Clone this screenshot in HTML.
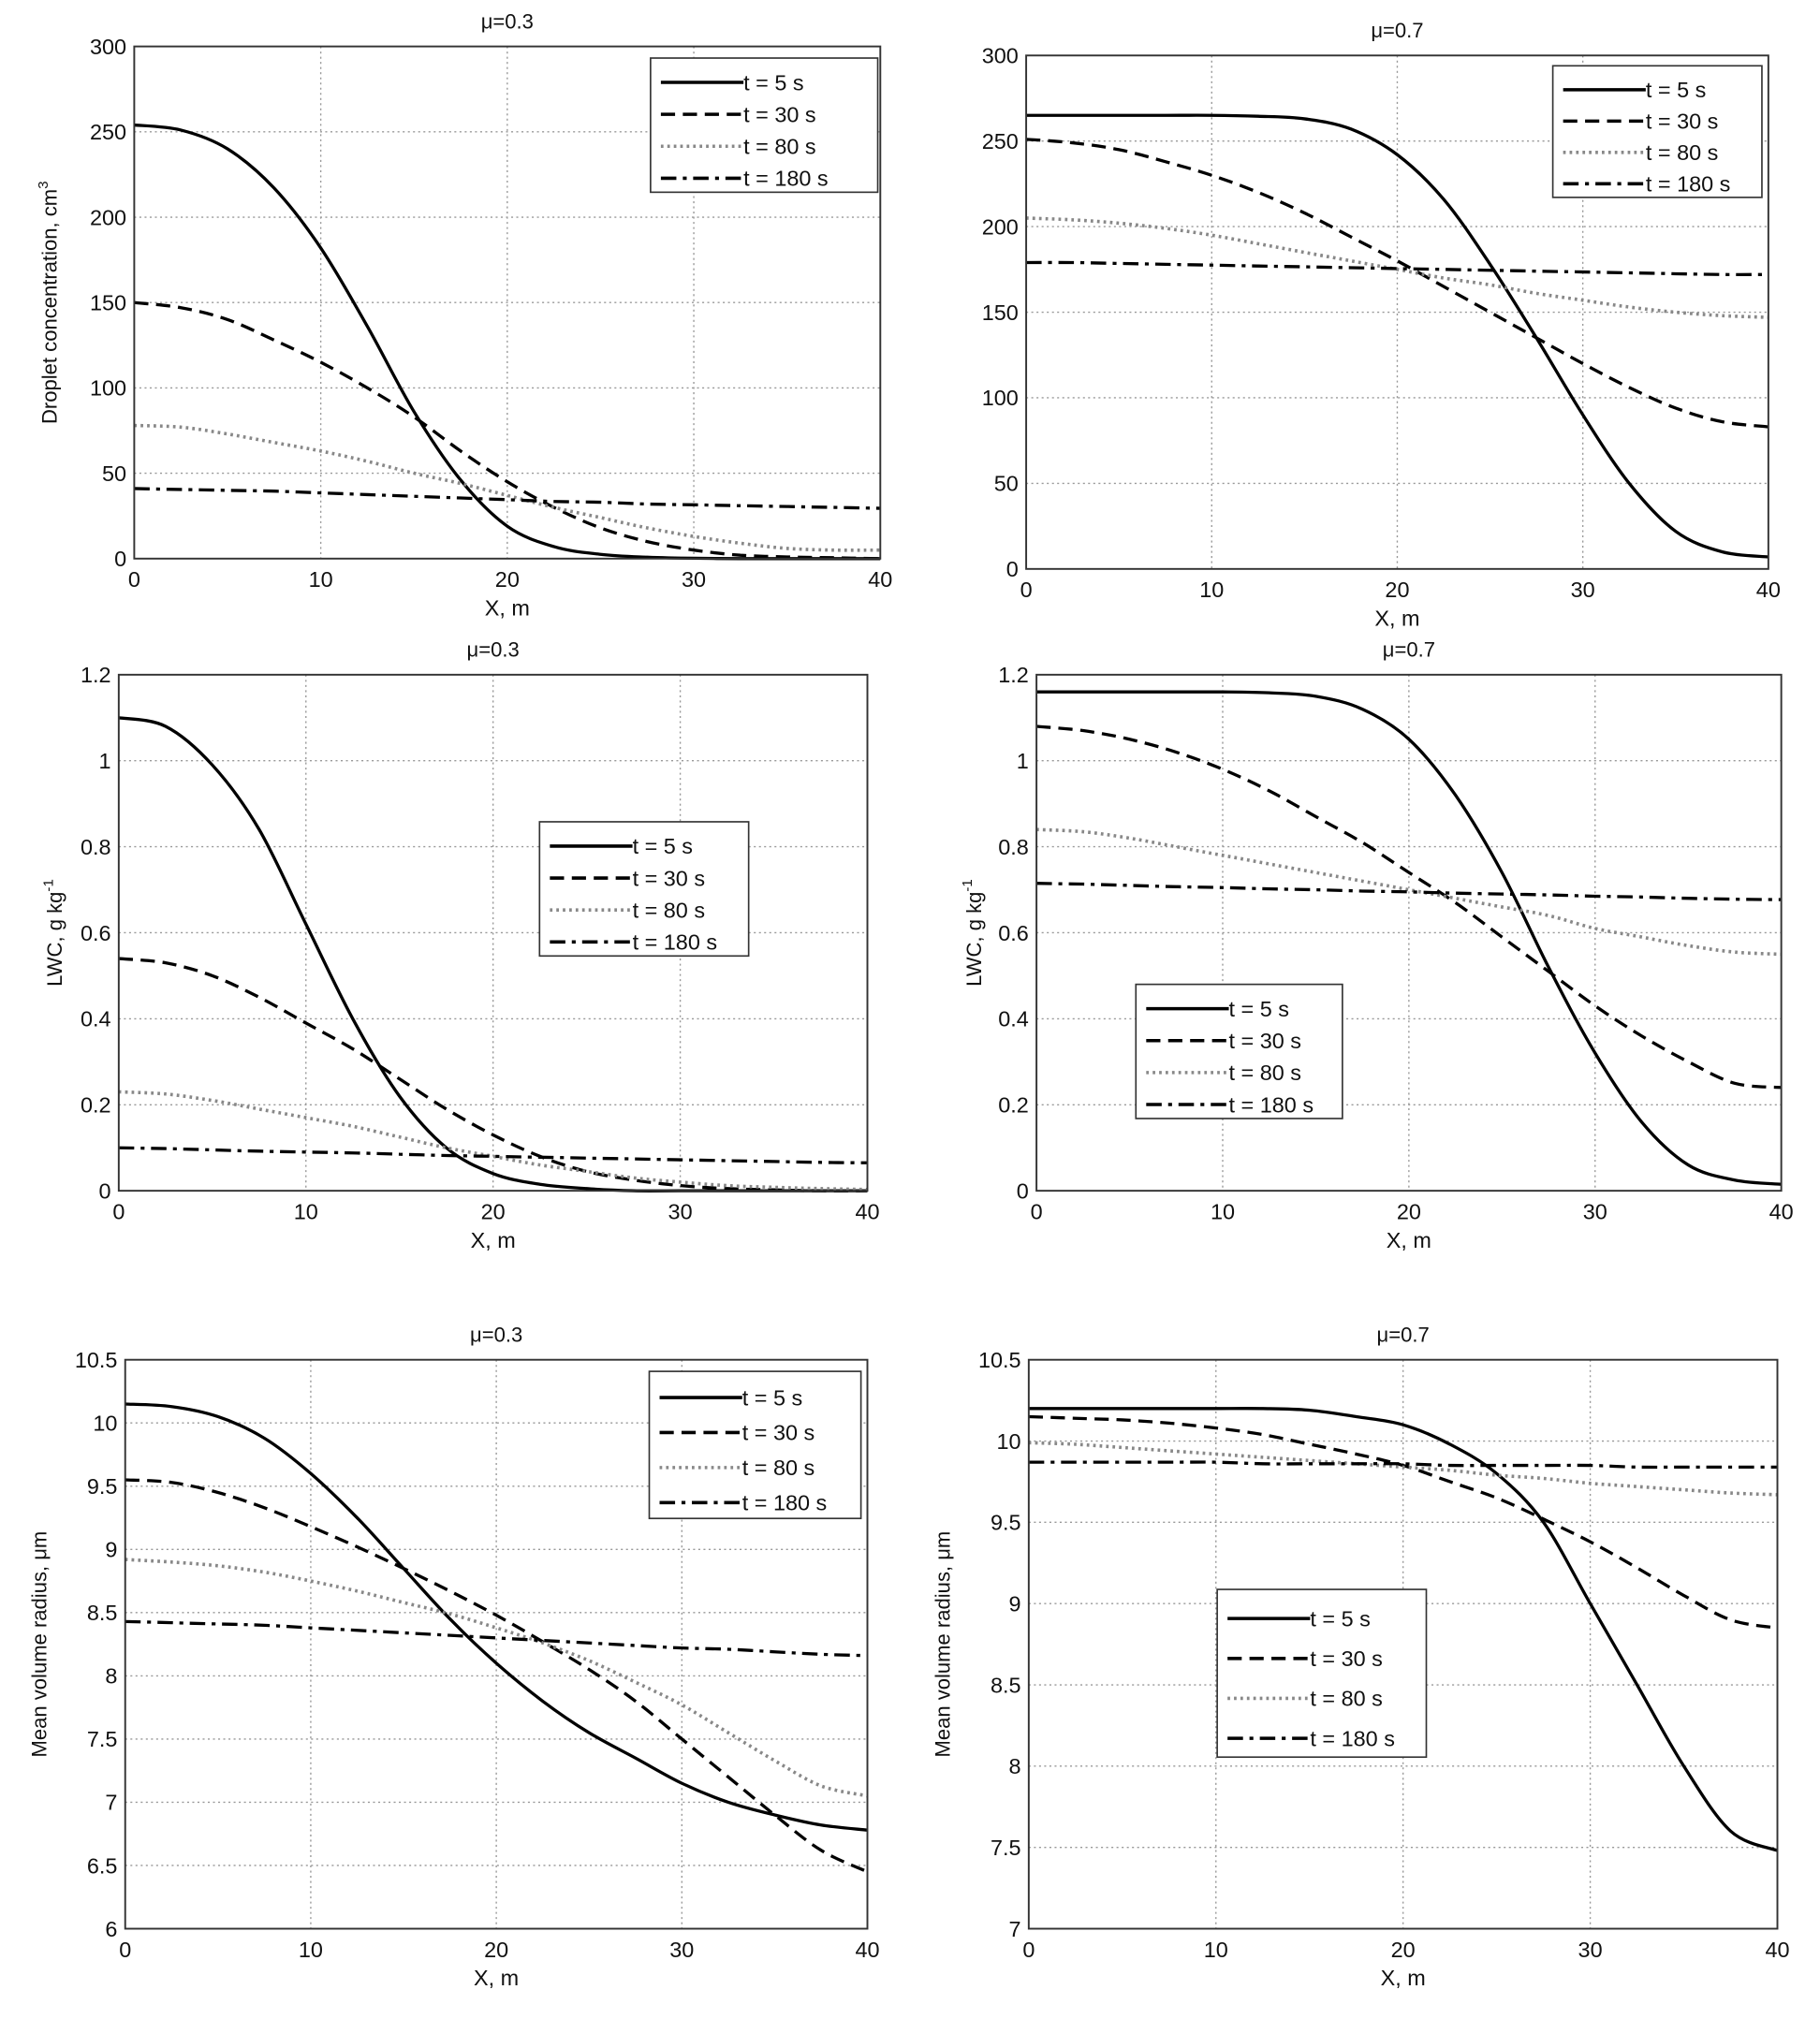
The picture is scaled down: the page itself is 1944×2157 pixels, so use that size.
<!DOCTYPE html>
<html><head><meta charset="utf-8">
<style>
html,body{margin:0;padding:0;background:#fff;}
svg{display:block;}
text{font-family:"Liberation Sans",Arial,sans-serif;fill:#111;}
</style></head>
<body>
<svg id="fig" width="1944" height="2157" viewBox="0 0 1410 1565" preserveAspectRatio="none" xmlns="http://www.w3.org/2000/svg"></svg>
<script>
// ---------- data ----------
const xs = [0,2.5,5,7.5,10,12.5,15,17.5,20,22.5,25,27.5,30,32.5,35,37.5,40];
const seriesLabels = ["t = 5 s","t = 30 s","t = 80 s","t = 180 s"];
const xTicks = [0,10,20,30,40];

const concMu03_t5   = [254,251,240,217,182,136,86,46,19,7,2.5,0.8,0.2,0,0,0,0];
const concMu03_t30  = [150,147,140,128,115,100,83,63,45,30,18,10,5,2,1,0.5,0];
const concMu03_t80  = [78,77,73,68,63,57,50,44,37,30,24,18,13,9,6,5,5];
const concMu03_t180 = [41,40.5,40,39.5,38.5,37.5,36.5,35.5,34.5,33.5,33,32,31.5,31,30.5,30,29.5];

const concMu07_t5   = [265,265,265,265,265,264.5,263,257,242,216,178,135,90,50,22,10,7];
const concMu07_t30  = [251,249,245,238,230,220,208,194,180,165,150,135,120,106,94,86,83];
const concMu07_t80  = [205,204,202,199,195,190,185,180,175,170,166,161,157,153,150,148,147];
const concMu07_t180 = [179,179,178.5,178,177.5,177,176.5,176,175.5,175,174.5,174,173.5,173,172.5,172,172];

const lwcMu03_t5   = [1.10,1.08,0.99,0.84,0.62,0.40,0.22,0.10,0.04,0.015,0.005,0,0,0,0,0,0];
const lwcMu03_t30  = [0.54,0.53,0.50,0.45,0.39,0.33,0.26,0.19,0.13,0.08,0.045,0.025,0.012,0.005,0.002,0,0];
const lwcMu03_t80  = [0.23,0.225,0.21,0.19,0.17,0.15,0.125,0.10,0.08,0.06,0.045,0.03,0.02,0.012,0.008,0.005,0.003];
const lwcMu03_t180 = [0.10,0.098,0.095,0.092,0.09,0.088,0.085,0.082,0.08,0.078,0.076,0.074,0.072,0.07,0.068,0.066,0.065];

const lwcMu07_t5   = [1.16,1.16,1.16,1.16,1.16,1.158,1.15,1.12,1.05,0.92,0.74,0.52,0.32,0.16,0.06,0.025,0.015];
const lwcMu07_t30  = [1.08,1.07,1.05,1.02,0.98,0.93,0.87,0.81,0.74,0.67,0.59,0.51,0.43,0.36,0.30,0.25,0.24];
const lwcMu07_t80  = [0.84,0.835,0.82,0.80,0.78,0.76,0.74,0.72,0.70,0.68,0.66,0.64,0.61,0.59,0.57,0.555,0.55];
const lwcMu07_t180 = [0.715,0.713,0.71,0.707,0.705,0.702,0.70,0.697,0.695,0.692,0.69,0.688,0.685,0.683,0.68,0.678,0.677];

const radMu03_t5   = [10.15,10.13,10.05,9.88,9.6,9.25,8.85,8.45,8.1,7.8,7.55,7.35,7.15,7.0,6.9,6.82,6.78];
const radMu03_t30  = [9.55,9.53,9.45,9.33,9.18,9.02,8.85,8.67,8.48,8.27,8.05,7.8,7.5,7.2,6.9,6.62,6.45];
const radMu03_t80  = [8.92,8.9,8.87,8.82,8.75,8.67,8.58,8.49,8.38,8.26,8.12,7.95,7.77,7.55,7.33,7.13,7.05];
const radMu03_t180 = [8.43,8.42,8.41,8.40,8.38,8.36,8.34,8.32,8.30,8.28,8.26,8.24,8.22,8.21,8.19,8.17,8.16];

const radMu07_t5   = [10.2,10.2,10.2,10.2,10.2,10.2,10.19,10.15,10.1,9.98,9.8,9.5,9.0,8.5,8.0,7.6,7.48];
const radMu07_t30  = [10.15,10.14,10.13,10.11,10.08,10.04,9.98,9.92,9.85,9.75,9.65,9.52,9.38,9.22,9.05,8.9,8.85];
const radMu07_t80  = [9.99,9.98,9.96,9.94,9.92,9.9,9.88,9.86,9.84,9.82,9.79,9.77,9.74,9.72,9.7,9.68,9.67];
const radMu07_t180 = [9.87,9.87,9.87,9.87,9.87,9.86,9.86,9.86,9.86,9.85,9.85,9.85,9.85,9.84,9.84,9.84,9.84];

const concTicks = [0,50,100,150,200,250,300];
const lwcTicks = [0,0.2,0.4,0.6,0.8,1,1.2];
const radTicksA = [6,6.5,7,7.5,8,8.5,9,9.5,10,10.5];
const radTicksB = [7,7.5,8,8.5,9,9.5,10,10.5];

// ---------- drawing ----------
const NS = "http://www.w3.org/2000/svg";
const svg = document.getElementById("fig");
function mk(tag, attrs, parent){
  const e = document.createElementNS(NS, tag);
  for (const k in attrs) e.setAttribute(k, attrs[k]);
  (parent||svg).appendChild(e);
  return e;
}
const styles = [
  {dash:"", color:"#000", w:2.4},
  {dash:"11,6", color:"#000", w:2.4},
  {dash:"2,3", color:"#888", w:2.6},
  {dash:"12,5,3,5", color:"#000", w:2.4}
];
function fmt(v){ return String(v); }
function smooth(pts){
  let d="M"+pts[0][0].toFixed(1)+","+pts[0][1].toFixed(1);
  for(let i=0;i<pts.length-1;i++){
    const p0=pts[Math.max(0,i-1)],p1=pts[i],p2=pts[i+1],p3=pts[Math.min(pts.length-1,i+2)];
    const c1x=p1[0]+(p2[0]-p0[0])/6, c1y=p1[1]+(p2[1]-p0[1])/6;
    const c2x=p2[0]-(p3[0]-p1[0])/6, c2y=p2[1]-(p3[1]-p1[1])/6;
    d+="C"+c1x.toFixed(1)+","+c1y.toFixed(1)+" "+c2x.toFixed(1)+","+c2y.toFixed(1)+" "+p2[0].toFixed(1)+","+p2[1].toFixed(1);
  }
  return d;
}

function panel(p){
  const g = mk("g", {});
  
  
  const L=p.l,R=p.r,T=p.t,B=p.b;
  const ymin=p.ticks[0], ymax=p.ticks[p.ticks.length-1];
  const sx = x => L + (x-0)/(40-0)*(R-L);
  const sy = y => B - (y-ymin)/(ymax-ymin)*(B-T);
  xTicks.forEach(t=>{
    if(t>0 && t<40){ const gl=mk("line",{x1:sx(t),x2:sx(t),y1:T,y2:B,stroke:"#999","stroke-width":1,"stroke-dasharray":"1.5,2.5"},g);
        }
    const tl=mk("text",{x:sx(t),y:B+22,"text-anchor":"middle","font-size":17},g); tl.textContent=fmt(t);
     
  });
  p.ticks.forEach(t=>{
    if(t>ymin && t<ymax){ const gl=mk("line",{x1:L,x2:R,y1:sy(t),y2:sy(t),stroke:"#999","stroke-width":1,"stroke-dasharray":"1.5,2.5"},g);
        }
    const tl=mk("text",{x:L-6,y:sy(t)+6,"text-anchor":"end","font-size":17},g); tl.textContent=fmt(t);
     
  });
  p.series.forEach((vals,i)=>{
    const st=styles[i];
    const pts=vals.map((v,j)=>[sx(xs[j]),sy(v)]);
    const pl=mk("path",{d:smooth(pts),fill:"none",stroke:st.color,"stroke-width":st.w,"stroke-dasharray":st.dash,"stroke-linejoin":"round"},g);
    
    
  });
  const fr=mk("rect",{x:L,y:T,width:R-L,height:B-T,fill:"none",stroke:"#333","stroke-width":1.4},g);
   
  const ti=mk("text",{x:(L+R)/2,y:T-14,"text-anchor":"middle","font-size":16},g); ti.textContent=p.title;
   
  const xl=mk("text",{x:(L+R)/2,y:B+44,"text-anchor":"middle","font-size":17},g); xl.textContent="X, m";
   
  if(p.ylabel){
    const cy=(T+B)/2;
    const yl=mk("text",{x:p.ylx,y:cy,"text-anchor":"middle","font-size":16,transform:"rotate(-90 "+p.ylx+" "+cy+")"},g);
     
    yl.textContent=p.ylabel;
    if(p.ysup){ const ts=mk("tspan",{dy:-7,"font-size":11},yl); ts.textContent=p.ysup; }
  }
  const lg=mk("g",{},g);
   
  const [lx,ly,lw,lh]=p.leg;
  mk("rect",{x:lx,y:ly,width:lw,height:lh,fill:"#fff",stroke:"#333","stroke-width":1.2},lg);
  seriesLabels.forEach((s,i)=>{
    const yy=ly+lh*(i+0.6)/4.2+4;
    const ln=mk("line",{x1:lx+8,x2:lx+72,y1:yy,y2:yy,stroke:styles[i].color,"stroke-width":2.6,"stroke-dasharray":styles[i].dash},lg);
     
    const tx=mk("text",{x:lx+72,y:yy+6,"font-size":17},lg); tx.textContent=s;
     
  });
}

panel({name:"panel-conc-mu03",l:104,r:682,t:36,b:433,ticks:concTicks,title:"μ=0.3",ylabel:"Droplet concentration, cm",ysup:"3",ylx:44,leg:[504,45,176,104],
  series:[concMu03_t5,concMu03_t30,concMu03_t80,concMu03_t180]});
panel({name:"panel-conc-mu07",l:795,r:1370,t:43,b:441,ticks:concTicks,title:"μ=0.7",ylabel:null,leg:[1203,51,162,102],
  series:[concMu07_t5,concMu07_t30,concMu07_t80,concMu07_t180]});
panel({name:"panel-lwc-mu03",l:92,r:672,t:523,b:923,ticks:lwcTicks,title:"μ=0.3",ylabel:"LWC, g kg",ysup:"-1",ylx:48,leg:[418,637,162,104],
  series:[lwcMu03_t5,lwcMu03_t30,lwcMu03_t80,lwcMu03_t180]});
panel({name:"panel-lwc-mu07",l:803,r:1380,t:523,b:923,ticks:lwcTicks,title:"μ=0.7",ylabel:"LWC, g kg",ysup:"-1",ylx:760,leg:[880,763,160,104],
  series:[lwcMu07_t5,lwcMu07_t30,lwcMu07_t80,lwcMu07_t180]});
panel({name:"panel-radius-mu03",l:97,r:672,t:1054,b:1495,ticks:radTicksA,title:"μ=0.3",ylabel:"Mean volume radius, μm",ylx:36,leg:[503,1063,164,114],
  series:[radMu03_t5,radMu03_t30,radMu03_t80,radMu03_t180]});
panel({name:"panel-radius-mu07",l:797,r:1377,t:1054,b:1495,ticks:radTicksB,title:"μ=0.7",ylabel:"Mean volume radius, μm",ylx:736,leg:[943,1232,162,130],
  series:[radMu07_t5,radMu07_t30,radMu07_t80,radMu07_t180]});
</script>
</body></html>
